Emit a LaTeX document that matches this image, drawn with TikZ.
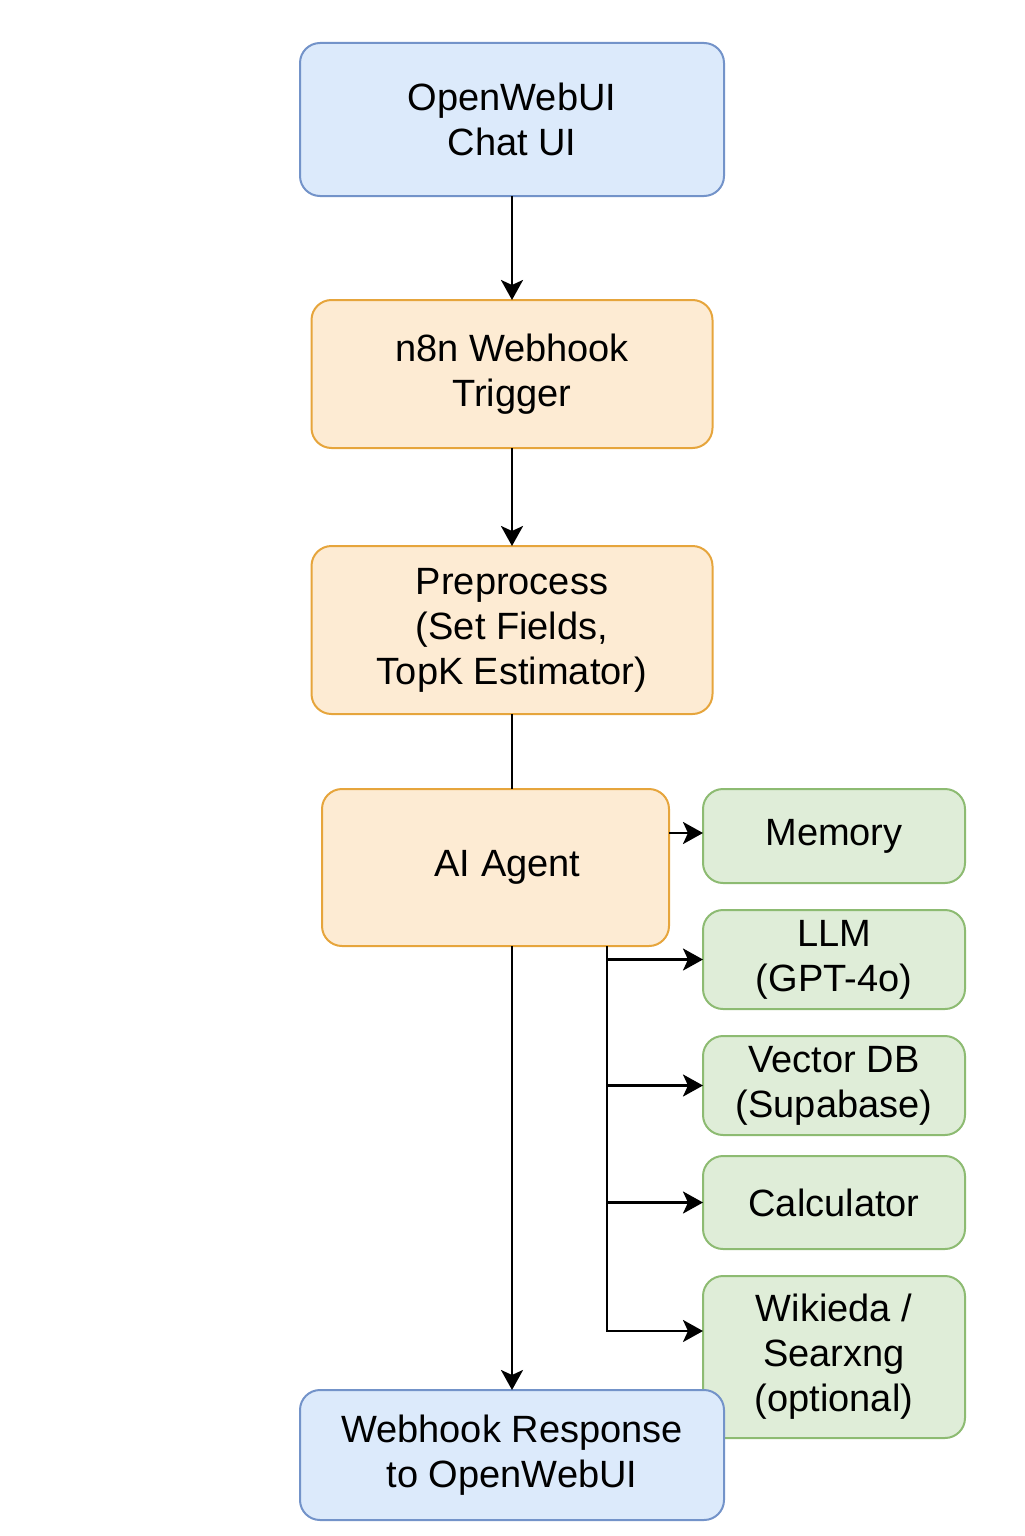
\documentclass[tikz,border=0pt]{standalone}
\usepackage{fontspec}
\setmainfont{Liberation Sans}
\usetikzlibrary{positioning,arrows.meta}
\definecolor{uifill}{HTML}{DCEAFB}
\definecolor{uiline}{HTML}{7393C9}
\definecolor{flowfill}{HTML}{FDEBD3}
\definecolor{flowline}{HTML}{E6A53C}
\definecolor{toolfill}{HTML}{DFEDD8}
\definecolor{toolline}{HTML}{8DBB72}
\tikzset{
    box/.style={draw, rounded corners=10pt, line width=1pt, align=center, inner sep=0pt,
        outer sep=0pt, font=\fontsize{19}{22.5}\selectfont},
    uibox/.style={box, fill=uifill, draw=uiline, minimum width=212pt},
    flowbox/.style={box, fill=flowfill, draw=flowline, minimum width=200.5pt},
    toolbox/.style={box, fill=toolfill, draw=toolline, minimum width=131pt},
    wire/.style={line width=1.4pt},
    link/.style={wire, -{Stealth[length=10pt,width=11pt,inset=2.5pt]}}
}
\begin{document}
\begin{tikzpicture}
        \useasboundingbox (0,0) rectangle (512pt,-768pt);
        \node (chat) [uibox, minimum height=76.5pt] at (256pt,-59.75pt) {OpenWebUI\\Chat UI};
        \node (trigger) [flowbox, minimum height=74pt, below=52pt of chat] {n8n Webhook\\Trigger};
        \node (prep) [flowbox, minimum height=84pt, below=49pt of trigger] {Preprocess\\(Set Fields,\\TopK Estimator)};
        \node (agent) [flowbox, minimum width=173.5pt, minimum height=78.5pt, below=37.5pt of prep, xshift=-8.25pt] {\hspace*{12pt}AI Agent};
        \node (memory) [toolbox, minimum height=47pt, right=17pt of agent.north east, anchor=north west] {Memory};
        \node (llm) [toolbox, minimum height=49.5pt, below=13.5pt of memory] {LLM\\(GPT-4o)};
        \node (vdb) [toolbox, minimum height=49.5pt, below=13.5pt of llm] {Vector DB\\(Supabase)};
        \node (calc) [toolbox, minimum height=46.5pt, below=10.5pt of vdb] {Calculator};
        \node (wiki) [toolbox, minimum height=81pt, below=13.5pt of calc] {Wikieda /\\Searxng\\(optional)};
        \node (resp) [uibox, minimum height=65pt] at (256pt,-727.5pt) {Webhook Response\\to OpenWebUI};
        \coordinate (bus) at ([xshift=-31pt]agent.south east);
        \coordinate (wikiin) at ([yshift=13pt]wiki.west);
        \draw [link] (chat) -- (trigger);
        \draw [link] (trigger) -- (prep);
        \draw [wire] (prep.south) -- (prep.south |- agent.north);
        \draw [link] (prep.south |- agent.south) -- (resp.north);
        \draw [link] ([yshift=1.5pt]agent.east |- memory.west) -- ([yshift=1.5pt]memory.west);
        \draw [link] (bus) |- (llm.west);
        \draw [link] (bus) |- (vdb.west);
        \draw [link] (bus) |- (calc.west);
        \draw [link] (bus) |- (wikiin);
    \end{tikzpicture}
\end{document}
